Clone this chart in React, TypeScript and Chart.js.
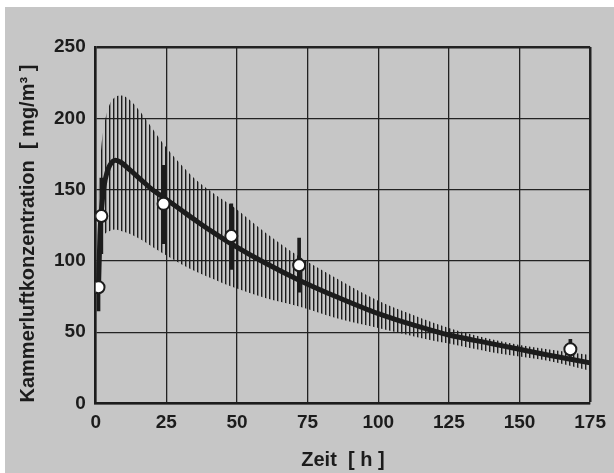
import React, { useEffect, useRef } from "react";
import { Chart, registerables } from "chart.js";

Chart.register(...registerables);

// Fitted curve (time in h, concentration in mg/m³)
const curveT = [1, 1.5, 2, 3, 4, 5, 7, 9, 12, 16, 20, 24, 30, 36, 42, 48, 60, 72, 85, 100, 115, 125, 140, 150, 160, 175];
const curveC = [82, 118, 135, 153, 162, 167, 170.5, 169, 164, 157, 150, 144.5, 136, 127.5, 119.5, 112, 98.5, 86.5, 75, 63, 53.5, 48, 42, 38, 34, 28.5];

// Hatched band (upper / lower limit)
const bandT = [1, 2, 3, 5, 7, 9, 12, 16, 20, 24, 30, 36, 42, 48, 60, 72, 85, 100, 115, 125, 140, 150, 160, 175];
const bandUpper = [150, 180, 195, 210, 215, 216, 213, 204, 193, 182, 168, 156, 147, 139, 120, 103, 88, 72, 60, 53, 45, 41, 38, 34];
const bandLower = [95, 112, 118, 121, 122, 121, 119, 115, 110, 105, 98, 92, 87, 82, 74, 68, 60, 53, 46, 42, 36, 33, 30, 23];

// Measured values with error bars
const measT = [1, 2, 24, 48, 72, 168];
const measC = [81.5, 131.5, 140, 117.5, 97, 38];
const measLow = [65, 105, 112, 94, 78, 33];
const measHigh = [99, 158, 167, 140, 116, 45];

const xTicks = [0, 25, 50, 75, 100, 125, 150, 175];
const yTicks = [0, 50, 100, 150, 200, 250];

const xTitle = "Zeit  [ h ]";
const yTitle = "Kammerluftkonzentration  [ mg/m³ ]";

const DARK = "#1c1c1c";
const FONT = "'Liberation Sans', Arial, Helvetica, sans-serif";

export default function App() {
  const ref = useRef<HTMLCanvasElement | null>(null);

  useEffect(() => {
    const canvas = ref.current;
    if (!canvas) return;
    const ctx = canvas.getContext("2d");
    if (!ctx) return;

    const pc = document.createElement("canvas");
    pc.width = 4;
    pc.height = 4;
    const pctx = pc.getContext("2d")!;
    pctx.fillStyle = DARK;
    pctx.fillRect(0, 0, 1.4, 4);
    const pattern = ctx.createPattern(pc, "repeat");

    const chart = new Chart(canvas, {
      type: "line",
      data: {
        datasets: [
          {
            type: "line",
            label: "Messwerte",
            data: measT.map((t, i) => ({ x: t, y: measC[i] })),
            showLine: false,
            pointRadius: 6,
            pointBorderWidth: 2,
            pointBackgroundColor: "#ffffff",
            pointBorderColor: DARK,
            order: 0,
          } as any,
          {
            type: "bar",
            label: "Fehler",
            data: measT.map((t, i) => ({ x: t, y: [measLow[i], measHigh[i]] })),
            backgroundColor: DARK,
            borderWidth: 0,
            barThickness: 3,
            order: 1,
          } as any,
          {
            type: "line",
            label: "Kurve",
            data: curveT.map((t, i) => ({ x: t, y: curveC[i] })),
            borderColor: DARK,
            borderWidth: 5,
            pointRadius: 0,
            cubicInterpolationMode: "monotone",
            fill: false,
            order: 2,
          } as any,
          {
            type: "line",
            label: "Oben",
            data: bandT.map((t, i) => ({ x: t, y: bandUpper[i] })),
            borderWidth: 0,
            borderColor: "rgba(0,0,0,0)",
            pointRadius: 0,
            cubicInterpolationMode: "monotone",
            backgroundColor: pattern,
            fill: "+1",
            order: 3,
          } as any,
          {
            type: "line",
            label: "Unten",
            data: bandT.map((t, i) => ({ x: t, y: bandLower[i] })),
            borderWidth: 0,
            borderColor: "rgba(0,0,0,0)",
            pointRadius: 0,
            cubicInterpolationMode: "monotone",
            fill: false,
            order: 4,
          } as any,
        ],
      },
      options: {
        responsive: false,
        animation: false,
        devicePixelRatio: 1,
        layout: { padding: { top: 40, right: 19, bottom: 0, left: 0 } },
        plugins: {
          legend: { display: false },
          tooltip: { enabled: false },
        },
        scales: {
          x: {
            type: "linear",
            min: 0,
            max: 175,
            offset: false,
            afterBuildTicks: (s: any) => {
              s.ticks = xTicks.map((v) => ({ value: v }));
            },
            afterFit: (s: any) => {
              s.height = 69.5;
            },
            ticks: {
              color: DARK,
              font: { family: FONT, size: 19, weight: "bold" },
              padding: 8,
              maxRotation: 0,
            },
            grid: {
              color: "#222222",
              offset: false,
              drawTicks: false,
              lineWidth: (c: any) => (c.tick && c.tick.value === 175 ? 2.5 : 1.3),
            },
            border: { display: true, color: DARK, width: 2.5 },
            title: {
              display: true,
              text: xTitle,
              color: DARK,
              font: { family: FONT, size: 20, weight: "bold" },
              padding: { top: 0, bottom: 1 },
            },
          },
          y: {
            type: "linear",
            min: 0,
            max: 250,
            afterBuildTicks: (s: any) => {
              s.ticks = yTicks.map((v) => ({ value: v }));
            },
            afterFit: (s: any) => {
              s.width = 90.7;
            },
            ticks: {
              color: DARK,
              font: { family: FONT, size: 19, weight: "bold" },
              padding: 10,
            },
            grid: {
              color: "#222222",
              drawTicks: false,
              lineWidth: (c: any) => (c.tick && c.tick.value === 250 ? 2.5 : 1.3),
            },
            border: { display: true, color: DARK, width: 2.5 },
            title: {
              display: true,
              text: yTitle + "   ",
              color: DARK,
              font: { family: FONT, size: 20, weight: "bold" },
              padding: { top: 11, bottom: 0 },
            },
          },
        },
      } as any,
    });

    return () => chart.destroy();
  }, []);

  return (
    <div
      style={{
        position: "fixed",
        left: 5,
        top: 7,
        width: 609,
        height: 466,
        background: "#c6c6c6",
      }}
    >
      <canvas ref={ref} width={609} height={466} style={{ display: "block" }} />
    </div>
  );
}
